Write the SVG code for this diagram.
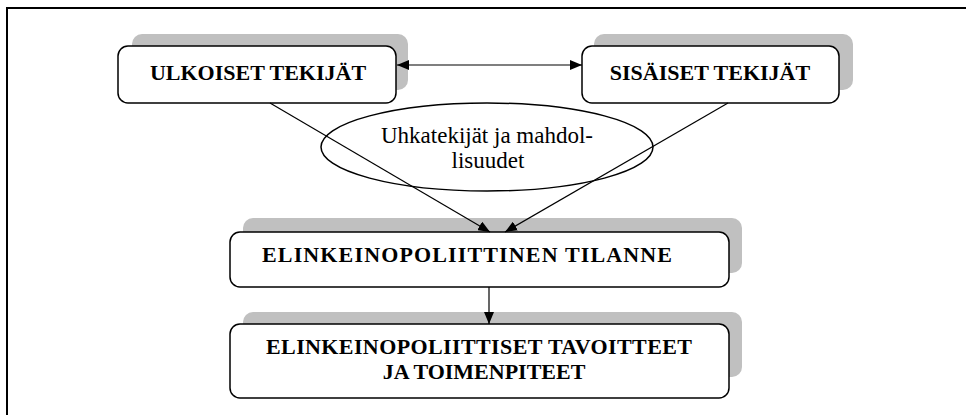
<svg xmlns="http://www.w3.org/2000/svg" width="966" height="415" viewBox="0 0 966 415">
  <style>
    .shadow { fill: #c0c0c0; stroke: none; }
    .box { fill: #ffffff; stroke: #000000; stroke-width: 1.5; }
    .label { font-family: "Liberation Serif", "Times New Roman", "DejaVu Serif", serif; font-weight: bold; font-size: 22px; fill: #000000; text-anchor: middle; }
    .note { font-family: "Liberation Serif", "Times New Roman", "DejaVu Serif", serif; font-size: 23px; fill: #000000; text-anchor: middle; }
    .link { stroke: #000000; stroke-width: 1.2; fill: none; }
    .frame { stroke: #000000; stroke-width: 2; fill: none; }
  </style>
  <defs>
    <marker id="head" viewBox="0 0 12 10" refX="12" refY="5" markerWidth="12" markerHeight="10" markerUnits="userSpaceOnUse" orient="auto-start-reverse">
      <path d="M0,0 L12,5 L0,10 Z" fill="#000000"/>
    </marker>
  </defs>

  <rect width="966" height="415" fill="#ffffff"/>

  <!-- outer frame (top and left edges) -->
  <path class="frame" d="M7,415 L7,8 L966,8"/>

  <g id="ulkoiset">
    <rect class="shadow" x="132" y="34" width="276" height="56" rx="10"/>
    <rect class="box" x="118" y="46" width="278" height="57" rx="10"/>
    <text class="label" x="258" y="80">ULKOISET TEKIJÄT</text>
  </g>

  <g id="sisaiset">
    <rect class="shadow" x="594" y="34" width="259" height="56" rx="10"/>
    <rect class="box" x="582" y="46" width="257" height="57" rx="10"/>
    <text class="label" x="710" y="80">SISÄISET TEKIJÄT</text>
  </g>

  <g id="uhkatekijat">
    <ellipse class="box" cx="487" cy="147" rx="166" ry="44" stroke-width="1.2"/>
    <text class="note" x="487" y="143">Uhkatekijät ja mahdol-</text>
    <text class="note" x="488" y="168">lisuudet</text>
  </g>

  <g id="tilanne">
    <rect class="shadow" x="243" y="218" width="499" height="55" rx="10"/>
    <rect class="box" x="230" y="232" width="499" height="55" rx="10"/>
    <text class="label" x="467" y="262" textLength="410" lengthAdjust="spacing">ELINKEINOPOLIITTINEN TILANNE</text>
  </g>

  <g id="tavoitteet">
    <rect class="shadow" x="243" y="312" width="499" height="65" rx="10"/>
    <rect class="box" x="230" y="324" width="499" height="74" rx="10"/>
    <text class="label" x="479" y="354" textLength="426" lengthAdjust="spacing">ELINKEINOPOLIITTISET TAVOITTEET</text>
    <text class="label" x="484" y="379">JA TOIMENPITEET</text>
  </g>

  <g id="connectors">
    <line class="link" x1="397" y1="65" x2="582" y2="65" marker-start="url(#head)" marker-end="url(#head)"/>
    <line class="link" x1="270" y1="103" x2="490" y2="232" marker-end="url(#head)"/>
    <line class="link" x1="728" y1="103" x2="505" y2="232" marker-end="url(#head)"/>
    <line class="link" x1="489" y1="287" x2="489" y2="324" marker-end="url(#head)"/>
  </g>
</svg>
